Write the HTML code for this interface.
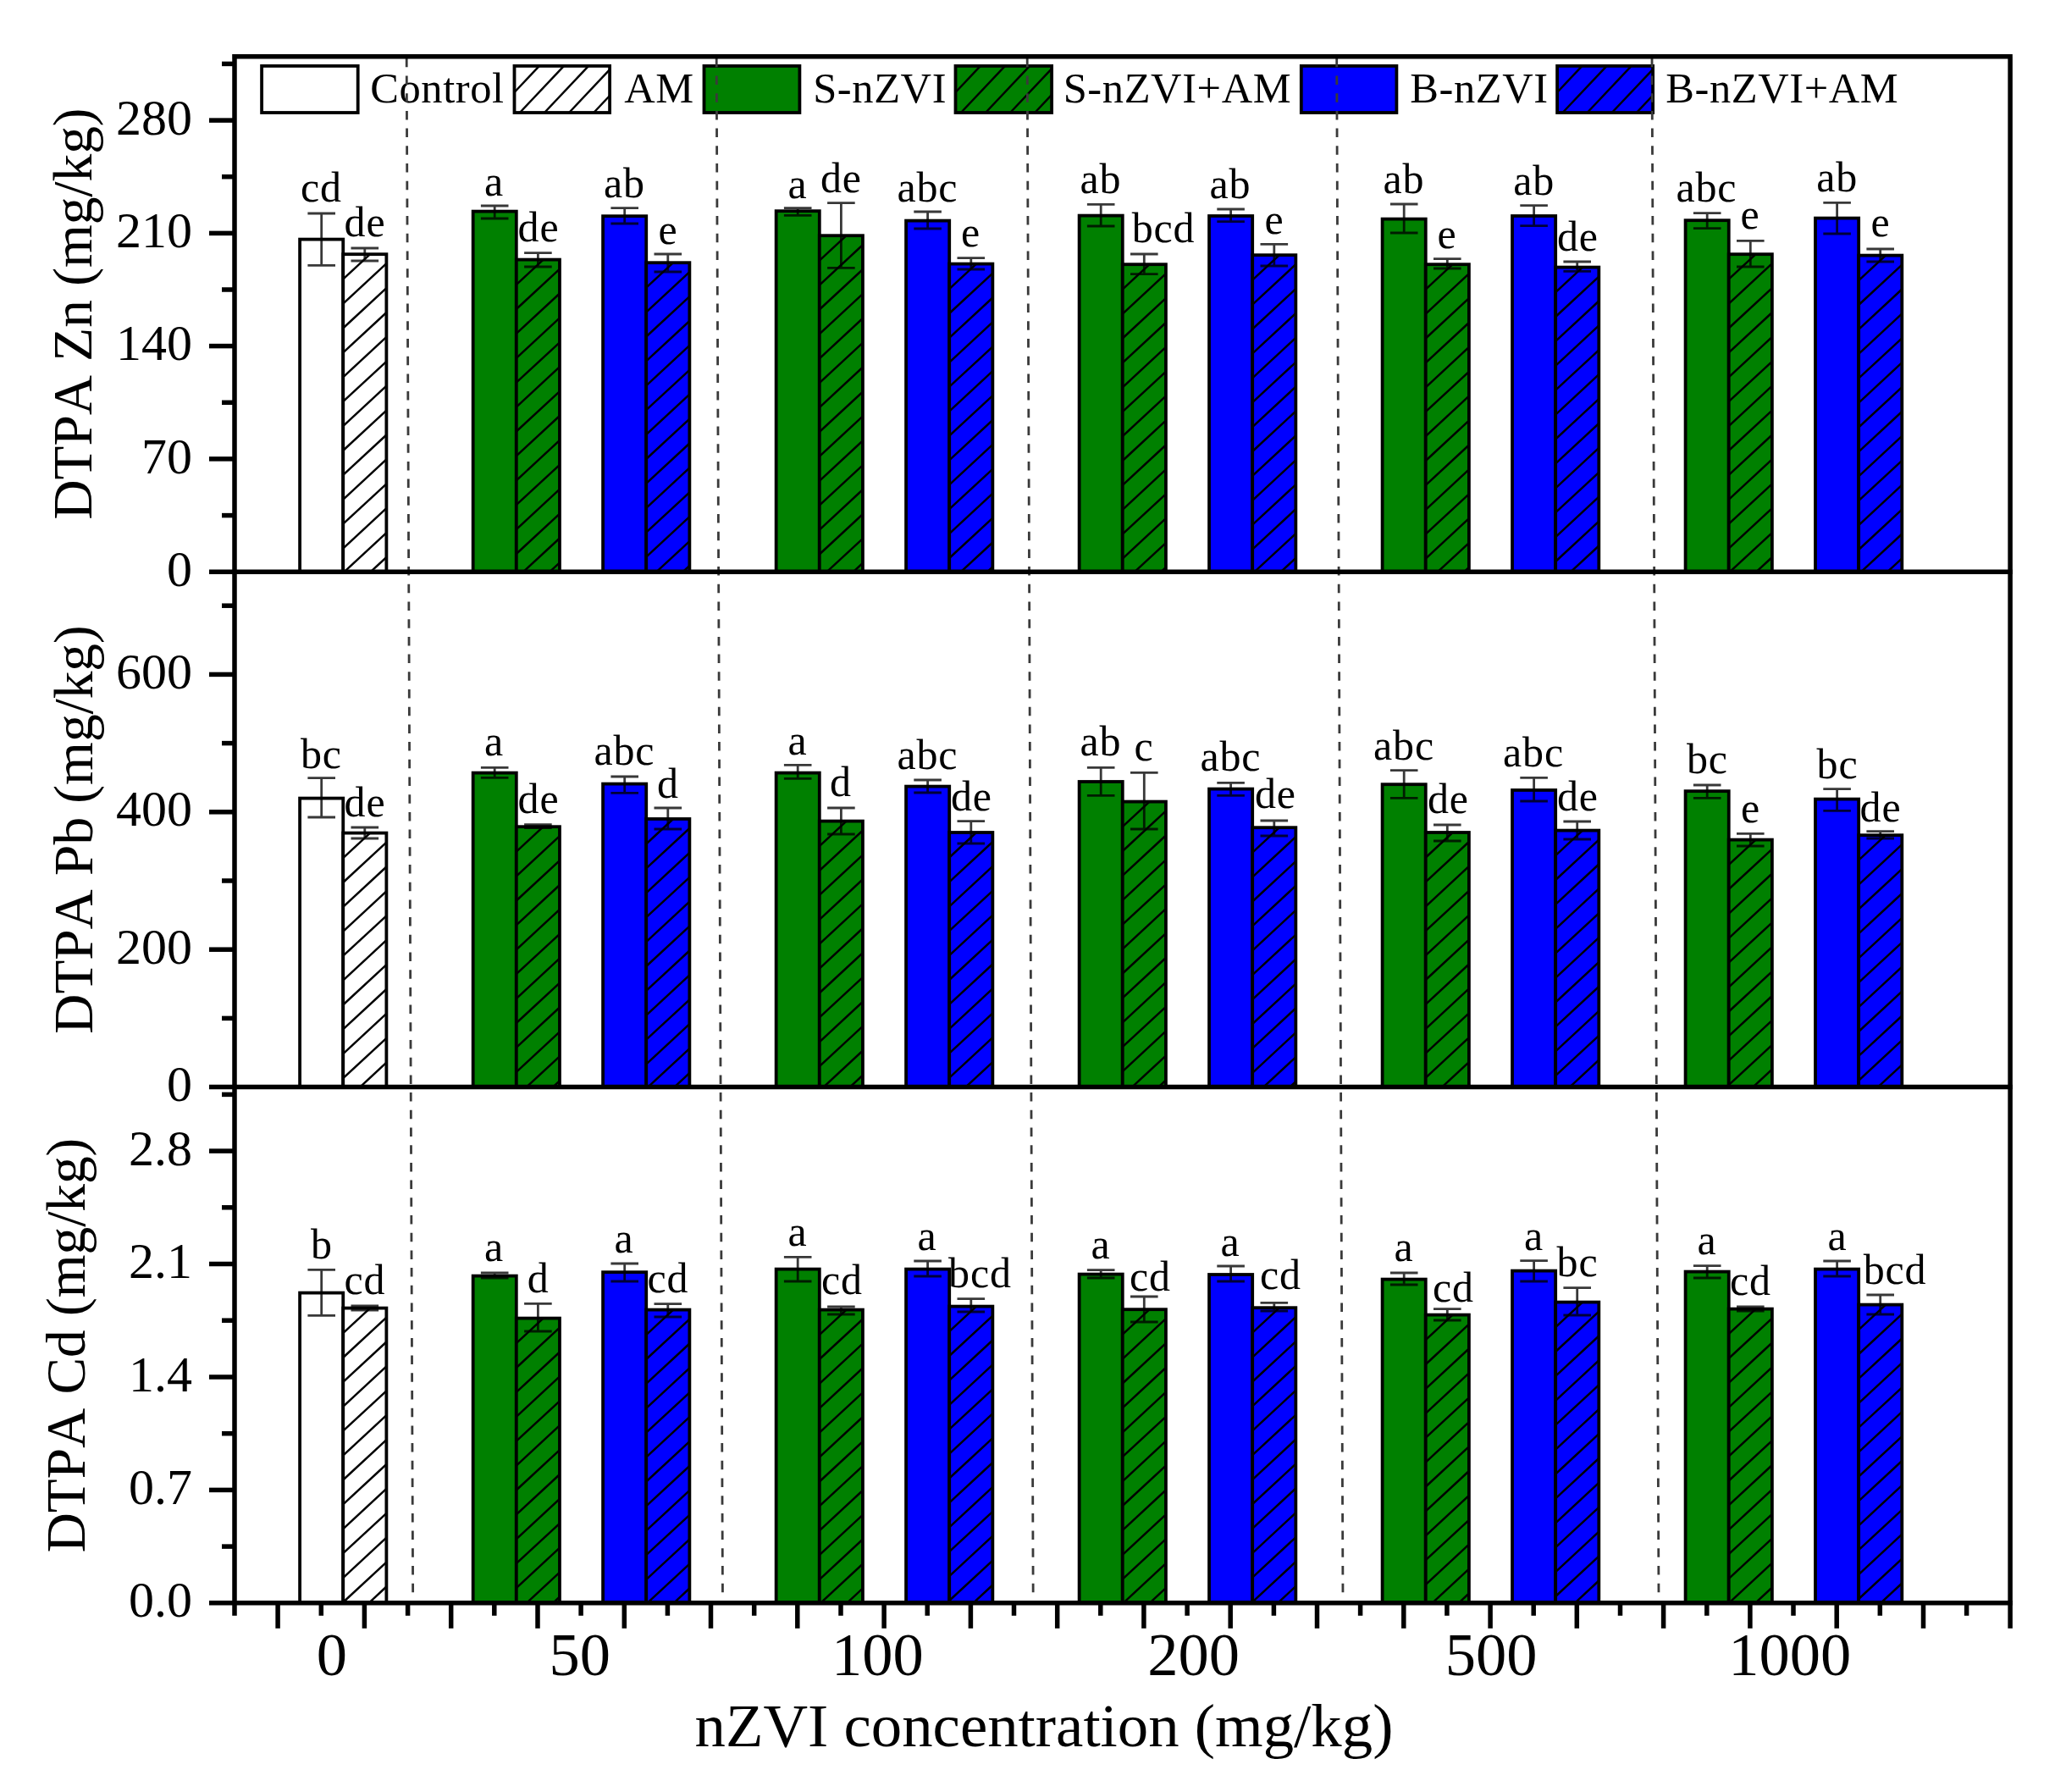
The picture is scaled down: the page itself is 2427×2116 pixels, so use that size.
<!DOCTYPE html>
<html lang="en"><head><meta charset="utf-8"><title>DTPA-extractable Zn, Pb, Cd vs nZVI concentration</title>
<style>
html,body{margin:0;padding:0;background:#fff;}
body{width:2427px;height:2116px;overflow:hidden;}
svg{display:block;}
text{font-family:"Liberation Serif","Times New Roman",serif;fill:#000;font-kerning:none;}
.lab{font-size:50px;text-anchor:middle;letter-spacing:0.8px;}
.leg{font-size:50.5px;letter-spacing:0.6px;}
.yt{font-size:60px;text-anchor:end;}
.xt{font-size:72.5px;text-anchor:middle;}
.ttl{font-size:72.8px;text-anchor:middle;}
.ytl{font-size:65.3px;text-anchor:middle;}
</style></head><body>
<svg width="2427" height="2116" viewBox="0 0 2427 2116">
<rect x="0" y="0" width="2427" height="2116" fill="#ffffff"/>
<g id="bars" stroke="#000" stroke-width="3.8">
<rect x="354.11" y="282.60" width="51.14" height="392.60" fill="#ffffff"/>
<rect x="405.25" y="300.20" width="51.14" height="375.00" fill="#ffffff"/>
<path d="M405.2,300.8L405.9,300.2M405.2,329.7L437.1,300.2M405.2,358.6L456.4,311.2M405.2,387.5L456.4,340.1M405.2,416.4L456.4,369.0M405.2,445.3L456.4,397.9M405.2,474.2L456.4,426.8M405.2,503.1L456.4,455.7M405.2,532.0L456.4,484.6M405.2,560.9L456.4,513.5M405.2,589.8L456.4,542.4M405.2,618.7L456.4,571.3M405.2,647.6L456.4,600.2M406.7,675.2L456.4,629.1M437.8,675.2L456.4,658.0" fill="none" stroke="#000" stroke-width="2.5"/>
<rect x="558.67" y="249.60" width="51.14" height="425.60" fill="#008000"/>
<rect x="609.81" y="306.60" width="51.14" height="368.60" fill="#008000"/>
<path d="M609.8,307.2L610.5,306.6M609.8,336.1L641.6,306.6M609.8,365.0L661.0,317.6M609.8,393.9L661.0,346.5M609.8,422.8L661.0,375.4M609.8,451.7L661.0,404.3M609.8,480.6L661.0,433.2M609.8,509.5L661.0,462.1M609.8,538.4L661.0,491.0M609.8,567.3L661.0,519.9M609.8,596.2L661.0,548.8M609.8,625.1L661.0,577.7M609.8,654.0L661.0,606.6M618.1,675.2L661.0,635.5M649.3,675.2L661.0,664.4" fill="none" stroke="#000" stroke-width="2.5"/>
<rect x="712.09" y="255.20" width="51.14" height="420.00" fill="#0000ff"/>
<rect x="763.23" y="310.20" width="51.14" height="365.00" fill="#0000ff"/>
<path d="M763.2,310.8L763.9,310.2M763.2,339.7L795.1,310.2M763.2,368.6L814.4,321.2M763.2,397.5L814.4,350.1M763.2,426.4L814.4,379.0M763.2,455.3L814.4,407.9M763.2,484.2L814.4,436.8M763.2,513.1L814.4,465.7M763.2,542.0L814.4,494.6M763.2,570.9L814.4,523.5M763.2,599.8L814.4,552.4M763.2,628.7L814.4,581.3M763.2,657.6L814.4,610.2M775.4,675.2L814.4,639.1M806.6,675.2L814.4,668.0" fill="none" stroke="#000" stroke-width="2.5"/>
<rect x="916.65" y="249.20" width="51.14" height="426.00" fill="#008000"/>
<rect x="967.79" y="278.20" width="51.14" height="397.00" fill="#008000"/>
<path d="M967.8,278.8L968.4,278.2M967.8,307.7L999.6,278.2M967.8,336.6L1018.9,289.2M967.8,365.5L1018.9,318.1M967.8,394.4L1018.9,347.0M967.8,423.3L1018.9,375.9M967.8,452.2L1018.9,404.8M967.8,481.1L1018.9,433.7M967.8,510.0L1018.9,462.6M967.8,538.9L1018.9,491.5M967.8,567.8L1018.9,520.4M967.8,596.7L1018.9,549.3M967.8,625.6L1018.9,578.2M967.8,654.5L1018.9,607.1M976.6,675.2L1018.9,636.0M1007.8,675.2L1018.9,664.9" fill="none" stroke="#000" stroke-width="2.5"/>
<rect x="1070.07" y="260.60" width="51.14" height="414.60" fill="#0000ff"/>
<rect x="1121.21" y="311.60" width="51.14" height="363.60" fill="#0000ff"/>
<path d="M1121.2,312.2L1121.9,311.6M1121.2,341.1L1153.0,311.6M1121.2,370.0L1172.4,322.6M1121.2,398.9L1172.4,351.5M1121.2,427.8L1172.4,380.4M1121.2,456.7L1172.4,409.3M1121.2,485.6L1172.4,438.2M1121.2,514.5L1172.4,467.1M1121.2,543.4L1172.4,496.0M1121.2,572.3L1172.4,524.9M1121.2,601.2L1172.4,553.8M1121.2,630.1L1172.4,582.7M1121.2,659.0L1172.4,611.6M1134.9,675.2L1172.4,640.5M1166.1,675.2L1172.4,669.4" fill="none" stroke="#000" stroke-width="2.5"/>
<rect x="1274.63" y="254.60" width="51.14" height="420.60" fill="#008000"/>
<rect x="1325.77" y="312.20" width="51.14" height="363.00" fill="#008000"/>
<path d="M1325.8,312.8L1326.4,312.2M1325.8,341.7L1357.6,312.2M1325.8,370.6L1376.9,323.2M1325.8,399.5L1376.9,352.1M1325.8,428.4L1376.9,381.0M1325.8,457.3L1376.9,409.9M1325.8,486.2L1376.9,438.8M1325.8,515.1L1376.9,467.7M1325.8,544.0L1376.9,496.6M1325.8,572.9L1376.9,525.5M1325.8,601.8L1376.9,554.4M1325.8,630.7L1376.9,583.3M1325.8,659.6L1376.9,612.2M1340.1,675.2L1376.9,641.1M1371.3,675.2L1376.9,670.0" fill="none" stroke="#000" stroke-width="2.5"/>
<rect x="1428.05" y="255.00" width="51.14" height="420.20" fill="#0000ff"/>
<rect x="1479.19" y="301.20" width="51.14" height="374.00" fill="#0000ff"/>
<path d="M1479.2,301.8L1479.8,301.2M1479.2,330.7L1511.0,301.2M1479.2,359.6L1530.3,312.2M1479.2,388.5L1530.3,341.1M1479.2,417.4L1530.3,370.0M1479.2,446.3L1530.3,398.9M1479.2,475.2L1530.3,427.8M1479.2,504.1L1530.3,456.7M1479.2,533.0L1530.3,485.6M1479.2,561.9L1530.3,514.5M1479.2,590.8L1530.3,543.4M1479.2,619.7L1530.3,572.3M1479.2,648.6L1530.3,601.2M1481.7,675.2L1530.3,630.1M1512.8,675.2L1530.3,659.0" fill="none" stroke="#000" stroke-width="2.5"/>
<rect x="1632.61" y="258.60" width="51.14" height="416.60" fill="#008000"/>
<rect x="1683.75" y="312.20" width="51.14" height="363.00" fill="#008000"/>
<path d="M1683.8,312.8L1684.4,312.2M1683.8,341.7L1715.6,312.2M1683.8,370.6L1734.9,323.2M1683.8,399.5L1734.9,352.1M1683.8,428.4L1734.9,381.0M1683.8,457.3L1734.9,409.9M1683.8,486.2L1734.9,438.8M1683.8,515.1L1734.9,467.7M1683.8,544.0L1734.9,496.6M1683.8,572.9L1734.9,525.5M1683.8,601.8L1734.9,554.4M1683.8,630.7L1734.9,583.3M1683.8,659.6L1734.9,612.2M1698.1,675.2L1734.9,641.1M1729.3,675.2L1734.9,670.0" fill="none" stroke="#000" stroke-width="2.5"/>
<rect x="1786.03" y="255.00" width="51.14" height="420.20" fill="#0000ff"/>
<rect x="1837.17" y="315.60" width="51.14" height="359.60" fill="#0000ff"/>
<path d="M1837.2,316.2L1837.8,315.6M1837.2,345.1L1869.0,315.6M1837.2,374.0L1888.3,326.6M1837.2,402.9L1888.3,355.5M1837.2,431.8L1888.3,384.4M1837.2,460.7L1888.3,413.3M1837.2,489.6L1888.3,442.2M1837.2,518.5L1888.3,471.1M1837.2,547.4L1888.3,500.0M1837.2,576.3L1888.3,528.9M1837.2,605.2L1888.3,557.8M1837.2,634.1L1888.3,586.7M1837.2,663.0L1888.3,615.6M1855.2,675.2L1888.3,644.5M1886.4,675.2L1888.3,673.4" fill="none" stroke="#000" stroke-width="2.5"/>
<rect x="1990.59" y="260.20" width="51.14" height="415.00" fill="#008000"/>
<rect x="2041.73" y="300.20" width="51.14" height="375.00" fill="#008000"/>
<path d="M2041.7,300.8L2042.4,300.2M2041.7,329.7L2073.6,300.2M2041.7,358.6L2092.9,311.2M2041.7,387.5L2092.9,340.1M2041.7,416.4L2092.9,369.0M2041.7,445.3L2092.9,397.9M2041.7,474.2L2092.9,426.8M2041.7,503.1L2092.9,455.7M2041.7,532.0L2092.9,484.6M2041.7,560.9L2092.9,513.5M2041.7,589.8L2092.9,542.4M2041.7,618.7L2092.9,571.3M2041.7,647.6L2092.9,600.2M2043.1,675.2L2092.9,629.1M2074.3,675.2L2092.9,658.0" fill="none" stroke="#000" stroke-width="2.5"/>
<rect x="2144.01" y="257.60" width="51.14" height="417.60" fill="#0000ff"/>
<rect x="2195.15" y="301.60" width="51.14" height="373.60" fill="#0000ff"/>
<path d="M2195.2,302.2L2195.8,301.6M2195.2,331.1L2227.0,301.6M2195.2,360.0L2246.3,312.6M2195.2,388.9L2246.3,341.5M2195.2,417.8L2246.3,370.4M2195.2,446.7L2246.3,399.3M2195.2,475.6L2246.3,428.2M2195.2,504.5L2246.3,457.1M2195.2,533.4L2246.3,486.0M2195.2,562.3L2246.3,514.9M2195.2,591.2L2246.3,543.8M2195.2,620.1L2246.3,572.7M2195.2,649.0L2246.3,601.6M2198.1,675.2L2246.3,630.5M2229.2,675.2L2246.3,659.4" fill="none" stroke="#000" stroke-width="2.5"/>
<rect x="354.11" y="942.60" width="51.14" height="341.00" fill="#ffffff"/>
<rect x="405.25" y="983.60" width="51.14" height="300.00" fill="#ffffff"/>
<path d="M405.2,984.2L405.9,983.6M405.2,1013.1L437.1,983.6M405.2,1042.0L456.4,994.6M405.2,1070.9L456.4,1023.5M405.2,1099.8L456.4,1052.4M405.2,1128.7L456.4,1081.3M405.2,1157.6L456.4,1110.2M405.2,1186.5L456.4,1139.1M405.2,1215.4L456.4,1168.0M405.2,1244.3L456.4,1196.9M405.2,1273.2L456.4,1225.8M425.2,1283.6L456.4,1254.7" fill="none" stroke="#000" stroke-width="2.5"/>
<rect x="558.67" y="912.60" width="51.14" height="371.00" fill="#008000"/>
<rect x="609.81" y="976.20" width="51.14" height="307.40" fill="#008000"/>
<path d="M609.8,976.8L610.5,976.2M609.8,1005.7L641.6,976.2M609.8,1034.6L661.0,987.2M609.8,1063.5L661.0,1016.1M609.8,1092.4L661.0,1045.0M609.8,1121.3L661.0,1073.9M609.8,1150.2L661.0,1102.8M609.8,1179.1L661.0,1131.7M609.8,1208.0L661.0,1160.6M609.8,1236.9L661.0,1189.5M609.8,1265.8L661.0,1218.4M621.8,1283.6L661.0,1247.3M653.0,1283.6L661.0,1276.2" fill="none" stroke="#000" stroke-width="2.5"/>
<rect x="712.09" y="925.60" width="51.14" height="358.00" fill="#0000ff"/>
<rect x="763.23" y="967.00" width="51.14" height="316.60" fill="#0000ff"/>
<path d="M763.2,967.6L763.9,967.0M763.2,996.5L795.1,967.0M763.2,1025.4L814.4,978.0M763.2,1054.3L814.4,1006.9M763.2,1083.2L814.4,1035.8M763.2,1112.1L814.4,1064.7M763.2,1141.0L814.4,1093.6M763.2,1169.9L814.4,1122.5M763.2,1198.8L814.4,1151.4M763.2,1227.7L814.4,1180.3M763.2,1256.6L814.4,1209.2M765.3,1283.6L814.4,1238.1M796.5,1283.6L814.4,1267.0" fill="none" stroke="#000" stroke-width="2.5"/>
<rect x="916.65" y="912.60" width="51.14" height="371.00" fill="#008000"/>
<rect x="967.79" y="969.60" width="51.14" height="314.00" fill="#008000"/>
<path d="M967.8,970.2L968.4,969.6M967.8,999.1L999.6,969.6M967.8,1028.0L1018.9,980.6M967.8,1056.9L1018.9,1009.5M967.8,1085.8L1018.9,1038.4M967.8,1114.7L1018.9,1067.3M967.8,1143.6L1018.9,1096.2M967.8,1172.5L1018.9,1125.1M967.8,1201.4L1018.9,1154.0M967.8,1230.3L1018.9,1182.9M967.8,1259.2L1018.9,1211.8M972.6,1283.6L1018.9,1240.7M1003.8,1283.6L1018.9,1269.6" fill="none" stroke="#000" stroke-width="2.5"/>
<rect x="1070.07" y="928.60" width="51.14" height="355.00" fill="#0000ff"/>
<rect x="1121.21" y="983.00" width="51.14" height="300.60" fill="#0000ff"/>
<path d="M1121.2,983.6L1121.9,983.0M1121.2,1012.5L1153.0,983.0M1121.2,1041.4L1172.4,994.0M1121.2,1070.3L1172.4,1022.9M1121.2,1099.2L1172.4,1051.8M1121.2,1128.1L1172.4,1080.7M1121.2,1157.0L1172.4,1109.6M1121.2,1185.9L1172.4,1138.5M1121.2,1214.8L1172.4,1167.4M1121.2,1243.7L1172.4,1196.3M1121.2,1272.6L1172.4,1225.2M1140.5,1283.6L1172.4,1254.1M1171.7,1283.6L1172.4,1283.0" fill="none" stroke="#000" stroke-width="2.5"/>
<rect x="1274.63" y="923.00" width="51.14" height="360.60" fill="#008000"/>
<rect x="1325.77" y="946.60" width="51.14" height="337.00" fill="#008000"/>
<path d="M1325.8,947.2L1326.4,946.6M1325.8,976.1L1357.6,946.6M1325.8,1005.0L1376.9,957.6M1325.8,1033.9L1376.9,986.5M1325.8,1062.8L1376.9,1015.4M1325.8,1091.7L1376.9,1044.3M1325.8,1120.6L1376.9,1073.2M1325.8,1149.5L1376.9,1102.1M1325.8,1178.4L1376.9,1131.0M1325.8,1207.3L1376.9,1159.9M1325.8,1236.2L1376.9,1188.8M1325.8,1265.1L1376.9,1217.7M1337.0,1283.6L1376.9,1246.6M1368.2,1283.6L1376.9,1275.5" fill="none" stroke="#000" stroke-width="2.5"/>
<rect x="1428.05" y="931.60" width="51.14" height="352.00" fill="#0000ff"/>
<rect x="1479.19" y="977.20" width="51.14" height="306.40" fill="#0000ff"/>
<path d="M1479.2,977.8L1479.8,977.2M1479.2,1006.7L1511.0,977.2M1479.2,1035.6L1530.3,988.2M1479.2,1064.5L1530.3,1017.1M1479.2,1093.4L1530.3,1046.0M1479.2,1122.3L1530.3,1074.9M1479.2,1151.2L1530.3,1103.8M1479.2,1180.1L1530.3,1132.7M1479.2,1209.0L1530.3,1161.6M1479.2,1237.9L1530.3,1190.5M1479.2,1266.8L1530.3,1219.4M1492.2,1283.6L1530.3,1248.3M1523.4,1283.6L1530.3,1277.2" fill="none" stroke="#000" stroke-width="2.5"/>
<rect x="1632.61" y="926.20" width="51.14" height="357.40" fill="#008000"/>
<rect x="1683.75" y="983.00" width="51.14" height="300.60" fill="#008000"/>
<path d="M1683.8,983.6L1684.4,983.0M1683.8,1012.5L1715.6,983.0M1683.8,1041.4L1734.9,994.0M1683.8,1070.3L1734.9,1022.9M1683.8,1099.2L1734.9,1051.8M1683.8,1128.1L1734.9,1080.7M1683.8,1157.0L1734.9,1109.6M1683.8,1185.9L1734.9,1138.5M1683.8,1214.8L1734.9,1167.4M1683.8,1243.7L1734.9,1196.3M1683.8,1272.6L1734.9,1225.2M1703.1,1283.6L1734.9,1254.1M1734.2,1283.6L1734.9,1283.0" fill="none" stroke="#000" stroke-width="2.5"/>
<rect x="1786.03" y="933.00" width="51.14" height="350.60" fill="#0000ff"/>
<rect x="1837.17" y="980.60" width="51.14" height="303.00" fill="#0000ff"/>
<path d="M1837.2,981.2L1837.8,980.6M1837.2,1010.1L1869.0,980.6M1837.2,1039.0L1888.3,991.6M1837.2,1067.9L1888.3,1020.5M1837.2,1096.8L1888.3,1049.4M1837.2,1125.7L1888.3,1078.3M1837.2,1154.6L1888.3,1107.2M1837.2,1183.5L1888.3,1136.1M1837.2,1212.4L1888.3,1165.0M1837.2,1241.3L1888.3,1193.9M1837.2,1270.2L1888.3,1222.8M1853.9,1283.6L1888.3,1251.7M1885.1,1283.6L1888.3,1280.6" fill="none" stroke="#000" stroke-width="2.5"/>
<rect x="1990.59" y="934.20" width="51.14" height="349.40" fill="#008000"/>
<rect x="2041.73" y="991.60" width="51.14" height="292.00" fill="#008000"/>
<path d="M2041.7,992.2L2042.4,991.6M2041.7,1021.1L2073.6,991.6M2041.7,1050.0L2092.9,1002.6M2041.7,1078.9L2092.9,1031.5M2041.7,1107.8L2092.9,1060.4M2041.7,1136.7L2092.9,1089.3M2041.7,1165.6L2092.9,1118.2M2041.7,1194.5L2092.9,1147.1M2041.7,1223.4L2092.9,1176.0M2041.7,1252.3L2092.9,1204.9M2041.7,1281.2L2092.9,1233.8M2070.3,1283.6L2092.9,1262.7" fill="none" stroke="#000" stroke-width="2.5"/>
<rect x="2144.01" y="943.60" width="51.14" height="340.00" fill="#0000ff"/>
<rect x="2195.15" y="986.20" width="51.14" height="297.40" fill="#0000ff"/>
<path d="M2195.2,986.8L2195.8,986.2M2195.2,1015.7L2227.0,986.2M2195.2,1044.6L2246.3,997.2M2195.2,1073.5L2246.3,1026.1M2195.2,1102.4L2246.3,1055.0M2195.2,1131.3L2246.3,1083.9M2195.2,1160.2L2246.3,1112.8M2195.2,1189.1L2246.3,1141.7M2195.2,1218.0L2246.3,1170.6M2195.2,1246.9L2246.3,1199.5M2195.2,1275.8L2246.3,1228.4M2217.9,1283.6L2246.3,1257.3" fill="none" stroke="#000" stroke-width="2.5"/>
<rect x="354.11" y="1526.60" width="51.14" height="366.20" fill="#ffffff"/>
<rect x="405.25" y="1544.60" width="51.14" height="348.20" fill="#ffffff"/>
<path d="M405.2,1545.2L405.9,1544.6M405.2,1574.1L437.1,1544.6M405.2,1603.0L456.4,1555.6M405.2,1631.9L456.4,1584.5M405.2,1660.8L456.4,1613.4M405.2,1689.7L456.4,1642.3M405.2,1718.6L456.4,1671.2M405.2,1747.5L456.4,1700.1M405.2,1776.4L456.4,1729.0M405.2,1805.3L456.4,1757.9M405.2,1834.2L456.4,1786.8M405.2,1863.1L456.4,1815.7M405.2,1892.0L456.4,1844.6M435.6,1892.8L456.4,1873.5" fill="none" stroke="#000" stroke-width="2.5"/>
<rect x="558.67" y="1506.60" width="51.14" height="386.20" fill="#008000"/>
<rect x="609.81" y="1556.60" width="51.14" height="336.20" fill="#008000"/>
<path d="M609.8,1557.2L610.5,1556.6M609.8,1586.1L641.6,1556.6M609.8,1615.0L661.0,1567.6M609.8,1643.9L661.0,1596.5M609.8,1672.8L661.0,1625.4M609.8,1701.7L661.0,1654.3M609.8,1730.6L661.0,1683.2M609.8,1759.5L661.0,1712.1M609.8,1788.4L661.0,1741.0M609.8,1817.3L661.0,1769.9M609.8,1846.2L661.0,1798.8M609.8,1875.1L661.0,1827.7M621.9,1892.8L661.0,1856.6M653.1,1892.8L661.0,1885.5" fill="none" stroke="#000" stroke-width="2.5"/>
<rect x="712.09" y="1502.20" width="51.14" height="390.60" fill="#0000ff"/>
<rect x="763.23" y="1546.60" width="51.14" height="346.20" fill="#0000ff"/>
<path d="M763.2,1547.2L763.9,1546.6M763.2,1576.1L795.1,1546.6M763.2,1605.0L814.4,1557.6M763.2,1633.9L814.4,1586.5M763.2,1662.8L814.4,1615.4M763.2,1691.7L814.4,1644.3M763.2,1720.6L814.4,1673.2M763.2,1749.5L814.4,1702.1M763.2,1778.4L814.4,1731.0M763.2,1807.3L814.4,1759.9M763.2,1836.2L814.4,1788.8M763.2,1865.1L814.4,1817.7M764.5,1892.8L814.4,1846.6M795.7,1892.8L814.4,1875.5" fill="none" stroke="#000" stroke-width="2.5"/>
<rect x="916.65" y="1498.60" width="51.14" height="394.20" fill="#008000"/>
<rect x="967.79" y="1546.60" width="51.14" height="346.20" fill="#008000"/>
<path d="M967.8,1547.2L968.4,1546.6M967.8,1576.1L999.6,1546.6M967.8,1605.0L1018.9,1557.6M967.8,1633.9L1018.9,1586.5M967.8,1662.8L1018.9,1615.4M967.8,1691.7L1018.9,1644.3M967.8,1720.6L1018.9,1673.2M967.8,1749.5L1018.9,1702.1M967.8,1778.4L1018.9,1731.0M967.8,1807.3L1018.9,1759.9M967.8,1836.2L1018.9,1788.8M967.8,1865.1L1018.9,1817.7M969.1,1892.8L1018.9,1846.6M1000.3,1892.8L1018.9,1875.5" fill="none" stroke="#000" stroke-width="2.5"/>
<rect x="1070.07" y="1498.60" width="51.14" height="394.20" fill="#0000ff"/>
<rect x="1121.21" y="1542.60" width="51.14" height="350.20" fill="#0000ff"/>
<path d="M1121.2,1543.2L1121.9,1542.6M1121.2,1572.1L1153.0,1542.6M1121.2,1601.0L1172.4,1553.6M1121.2,1629.9L1172.4,1582.5M1121.2,1658.8L1172.4,1611.4M1121.2,1687.7L1172.4,1640.3M1121.2,1716.6L1172.4,1669.2M1121.2,1745.5L1172.4,1698.1M1121.2,1774.4L1172.4,1727.0M1121.2,1803.3L1172.4,1755.9M1121.2,1832.2L1172.4,1784.8M1121.2,1861.1L1172.4,1813.7M1121.2,1890.0L1172.4,1842.6M1149.4,1892.8L1172.4,1871.5" fill="none" stroke="#000" stroke-width="2.5"/>
<rect x="1274.63" y="1504.60" width="51.14" height="388.20" fill="#008000"/>
<rect x="1325.77" y="1546.20" width="51.14" height="346.60" fill="#008000"/>
<path d="M1325.8,1546.8L1326.4,1546.2M1325.8,1575.7L1357.6,1546.2M1325.8,1604.6L1376.9,1557.2M1325.8,1633.5L1376.9,1586.1M1325.8,1662.4L1376.9,1615.0M1325.8,1691.3L1376.9,1643.9M1325.8,1720.2L1376.9,1672.8M1325.8,1749.1L1376.9,1701.7M1325.8,1778.0L1376.9,1730.6M1325.8,1806.9L1376.9,1759.5M1325.8,1835.8L1376.9,1788.4M1325.8,1864.7L1376.9,1817.3M1326.6,1892.8L1376.9,1846.2M1357.8,1892.8L1376.9,1875.1" fill="none" stroke="#000" stroke-width="2.5"/>
<rect x="1428.05" y="1505.00" width="51.14" height="387.80" fill="#0000ff"/>
<rect x="1479.19" y="1544.20" width="51.14" height="348.60" fill="#0000ff"/>
<path d="M1479.2,1544.8L1479.8,1544.2M1479.2,1573.7L1511.0,1544.2M1479.2,1602.6L1530.3,1555.2M1479.2,1631.5L1530.3,1584.1M1479.2,1660.4L1530.3,1613.0M1479.2,1689.3L1530.3,1641.9M1479.2,1718.2L1530.3,1670.8M1479.2,1747.1L1530.3,1699.7M1479.2,1776.0L1530.3,1728.6M1479.2,1804.9L1530.3,1757.5M1479.2,1833.8L1530.3,1786.4M1479.2,1862.7L1530.3,1815.3M1479.2,1891.6L1530.3,1844.2M1509.1,1892.8L1530.3,1873.1" fill="none" stroke="#000" stroke-width="2.5"/>
<rect x="1632.61" y="1510.60" width="51.14" height="382.20" fill="#008000"/>
<rect x="1683.75" y="1552.60" width="51.14" height="340.20" fill="#008000"/>
<path d="M1683.8,1553.2L1684.4,1552.6M1683.8,1582.1L1715.6,1552.6M1683.8,1611.0L1734.9,1563.6M1683.8,1639.9L1734.9,1592.5M1683.8,1668.8L1734.9,1621.4M1683.8,1697.7L1734.9,1650.3M1683.8,1726.6L1734.9,1679.2M1683.8,1755.5L1734.9,1708.1M1683.8,1784.4L1734.9,1737.0M1683.8,1813.3L1734.9,1765.9M1683.8,1842.2L1734.9,1794.8M1683.8,1871.1L1734.9,1823.7M1691.5,1892.8L1734.9,1852.6M1722.7,1892.8L1734.9,1881.5" fill="none" stroke="#000" stroke-width="2.5"/>
<rect x="1786.03" y="1500.60" width="51.14" height="392.20" fill="#0000ff"/>
<rect x="1837.17" y="1537.60" width="51.14" height="355.20" fill="#0000ff"/>
<path d="M1837.2,1538.2L1837.8,1537.6M1837.2,1567.1L1869.0,1537.6M1837.2,1596.0L1888.3,1548.6M1837.2,1624.9L1888.3,1577.5M1837.2,1653.8L1888.3,1606.4M1837.2,1682.7L1888.3,1635.3M1837.2,1711.6L1888.3,1664.2M1837.2,1740.5L1888.3,1693.1M1837.2,1769.4L1888.3,1722.0M1837.2,1798.3L1888.3,1750.9M1837.2,1827.2L1888.3,1779.8M1837.2,1856.1L1888.3,1808.7M1837.2,1885.0L1888.3,1837.6M1859.9,1892.8L1888.3,1866.5" fill="none" stroke="#000" stroke-width="2.5"/>
<rect x="1990.59" y="1501.60" width="51.14" height="391.20" fill="#008000"/>
<rect x="2041.73" y="1545.60" width="51.14" height="347.20" fill="#008000"/>
<path d="M2041.7,1546.2L2042.4,1545.6M2041.7,1575.1L2073.6,1545.6M2041.7,1604.0L2092.9,1556.6M2041.7,1632.9L2092.9,1585.5M2041.7,1661.8L2092.9,1614.4M2041.7,1690.7L2092.9,1643.3M2041.7,1719.6L2092.9,1672.2M2041.7,1748.5L2092.9,1701.1M2041.7,1777.4L2092.9,1730.0M2041.7,1806.3L2092.9,1758.9M2041.7,1835.2L2092.9,1787.8M2041.7,1864.1L2092.9,1816.7M2041.9,1892.8L2092.9,1845.6M2073.1,1892.8L2092.9,1874.5" fill="none" stroke="#000" stroke-width="2.5"/>
<rect x="2144.01" y="1498.60" width="51.14" height="394.20" fill="#0000ff"/>
<rect x="2195.15" y="1540.60" width="51.14" height="352.20" fill="#0000ff"/>
<path d="M2195.2,1541.2L2195.8,1540.6M2195.2,1570.1L2227.0,1540.6M2195.2,1599.0L2246.3,1551.6M2195.2,1627.9L2246.3,1580.5M2195.2,1656.8L2246.3,1609.4M2195.2,1685.7L2246.3,1638.3M2195.2,1714.6L2246.3,1667.2M2195.2,1743.5L2246.3,1696.1M2195.2,1772.4L2246.3,1725.0M2195.2,1801.3L2246.3,1753.9M2195.2,1830.2L2246.3,1782.8M2195.2,1859.1L2246.3,1811.7M2195.2,1888.0L2246.3,1840.6M2221.1,1892.8L2246.3,1869.5" fill="none" stroke="#000" stroke-width="2.5"/>
</g>
<g id="err" stroke="#000" stroke-opacity="0.78" stroke-width="2.8" fill="none">
<path d="M379.7,252.0 V313.4 M363.4,252.0 H396.0 M363.4,313.4 H396.0"/>
<path d="M430.8,293.0 V308.0 M414.5,293.0 H447.1 M414.5,308.0 H447.1"/>
<path d="M584.2,243.0 V258.0 M567.9,243.0 H600.5 M567.9,258.0 H600.5"/>
<path d="M635.4,298.6 V315.0 M619.1,298.6 H651.7 M619.1,315.0 H651.7"/>
<path d="M737.7,245.6 V264.0 M721.4,245.6 H754.0 M721.4,264.0 H754.0"/>
<path d="M788.8,300.0 V321.0 M772.5,300.0 H805.1 M772.5,321.0 H805.1"/>
<path d="M942.2,245.6 V254.4 M925.9,245.6 H958.5 M925.9,254.4 H958.5"/>
<path d="M993.4,239.6 V316.4 M977.1,239.6 H1009.7 M977.1,316.4 H1009.7"/>
<path d="M1095.6,250.0 V270.0 M1079.3,250.0 H1111.9 M1079.3,270.0 H1111.9"/>
<path d="M1146.8,304.6 V318.0 M1130.5,304.6 H1163.1 M1130.5,318.0 H1163.1"/>
<path d="M1300.2,241.4 V267.0 M1283.9,241.4 H1316.5 M1283.9,267.0 H1316.5"/>
<path d="M1351.3,300.0 V323.6 M1335.0,300.0 H1367.6 M1335.0,323.6 H1367.6"/>
<path d="M1453.6,247.0 V261.6 M1437.3,247.0 H1469.9 M1437.3,261.6 H1469.9"/>
<path d="M1504.8,288.4 V314.0 M1488.5,288.4 H1521.1 M1488.5,314.0 H1521.1"/>
<path d="M1658.2,241.0 V275.0 M1641.9,241.0 H1674.5 M1641.9,275.0 H1674.5"/>
<path d="M1709.3,305.6 V317.0 M1693.0,305.6 H1725.6 M1693.0,317.0 H1725.6"/>
<path d="M1811.6,242.6 V266.6 M1795.3,242.6 H1827.9 M1795.3,266.6 H1827.9"/>
<path d="M1862.7,309.0 V320.4 M1846.4,309.0 H1879.0 M1846.4,320.4 H1879.0"/>
<path d="M2016.2,251.6 V269.6 M1999.9,251.6 H2032.5 M1999.9,269.6 H2032.5"/>
<path d="M2067.3,284.4 V315.0 M2051.0,284.4 H2083.6 M2051.0,315.0 H2083.6"/>
<path d="M2169.6,239.4 V276.0 M2153.3,239.4 H2185.9 M2153.3,276.0 H2185.9"/>
<path d="M2220.7,294.0 V309.0 M2204.4,294.0 H2237.0 M2204.4,309.0 H2237.0"/>
<path d="M379.7,918.6 V965.0 M363.4,918.6 H396.0 M363.4,965.0 H396.0"/>
<path d="M430.8,977.0 V990.0 M414.5,977.0 H447.1 M414.5,990.0 H447.1"/>
<path d="M584.2,906.4 V918.4 M567.9,906.4 H600.5 M567.9,918.4 H600.5"/>
<path d="M635.4,973.6 V977.6 M619.1,973.6 H651.7 M619.1,977.6 H651.7"/>
<path d="M737.7,917.0 V936.4 M721.4,917.0 H754.0 M721.4,936.4 H754.0"/>
<path d="M788.8,954.0 V979.0 M772.5,954.0 H805.1 M772.5,979.0 H805.1"/>
<path d="M942.2,903.4 V919.4 M925.9,903.4 H958.5 M925.9,919.4 H958.5"/>
<path d="M993.4,954.0 V985.0 M977.1,954.0 H1009.7 M977.1,985.0 H1009.7"/>
<path d="M1095.6,921.0 V936.0 M1079.3,921.0 H1111.9 M1079.3,936.0 H1111.9"/>
<path d="M1146.8,969.6 V996.0 M1130.5,969.6 H1163.1 M1130.5,996.0 H1163.1"/>
<path d="M1300.2,906.4 V939.4 M1283.9,906.4 H1316.5 M1283.9,939.4 H1316.5"/>
<path d="M1351.3,912.4 V979.0 M1335.0,912.4 H1367.6 M1335.0,979.0 H1367.6"/>
<path d="M1453.6,924.4 V939.4 M1437.3,924.4 H1469.9 M1437.3,939.4 H1469.9"/>
<path d="M1504.8,969.0 V987.0 M1488.5,969.0 H1521.1 M1488.5,987.0 H1521.1"/>
<path d="M1658.2,909.6 V942.4 M1641.9,909.6 H1674.5 M1641.9,942.4 H1674.5"/>
<path d="M1709.3,974.0 V993.0 M1693.0,974.0 H1725.6 M1693.0,993.0 H1725.6"/>
<path d="M1811.6,918.4 V946.0 M1795.3,918.4 H1827.9 M1795.3,946.0 H1827.9"/>
<path d="M1862.7,970.0 V991.0 M1846.4,970.0 H1879.0 M1846.4,991.0 H1879.0"/>
<path d="M2016.2,927.0 V942.4 M1999.9,927.0 H2032.5 M1999.9,942.4 H2032.5"/>
<path d="M2067.3,984.4 V999.0 M2051.0,984.4 H2083.6 M2051.0,999.0 H2083.6"/>
<path d="M2169.6,931.6 V957.4 M2153.3,931.6 H2185.9 M2153.3,957.4 H2185.9"/>
<path d="M2220.7,981.6 V990.0 M2204.4,981.6 H2237.0 M2204.4,990.0 H2237.0"/>
<path d="M379.7,1499.4 V1553.4 M363.4,1499.4 H396.0 M363.4,1553.4 H396.0"/>
<path d="M430.8,1542.0 V1547.0 M414.5,1542.0 H447.1 M414.5,1547.0 H447.1"/>
<path d="M584.2,1503.0 V1509.0 M567.9,1503.0 H600.5 M567.9,1509.0 H600.5"/>
<path d="M635.4,1539.4 V1572.0 M619.1,1539.4 H651.7 M619.1,1572.0 H651.7"/>
<path d="M737.7,1492.0 V1513.0 M721.4,1492.0 H754.0 M721.4,1513.0 H754.0"/>
<path d="M788.8,1539.6 V1555.0 M772.5,1539.6 H805.1 M772.5,1555.0 H805.1"/>
<path d="M942.2,1484.4 V1513.0 M925.9,1484.4 H958.5 M925.9,1513.0 H958.5"/>
<path d="M993.4,1543.0 V1552.0 M977.1,1543.0 H1009.7 M977.1,1552.0 H1009.7"/>
<path d="M1095.6,1489.0 V1507.0 M1079.3,1489.0 H1111.9 M1079.3,1507.0 H1111.9"/>
<path d="M1146.8,1533.6 V1549.0 M1130.5,1533.6 H1163.1 M1130.5,1549.0 H1163.1"/>
<path d="M1300.2,1499.6 V1509.0 M1283.9,1499.6 H1316.5 M1283.9,1509.0 H1316.5"/>
<path d="M1351.3,1531.0 V1561.0 M1335.0,1531.0 H1367.6 M1335.0,1561.0 H1367.6"/>
<path d="M1453.6,1495.0 V1513.0 M1437.3,1495.0 H1469.9 M1437.3,1513.0 H1469.9"/>
<path d="M1504.8,1538.4 V1548.0 M1488.5,1538.4 H1521.1 M1488.5,1548.0 H1521.1"/>
<path d="M1658.2,1503.0 V1517.0 M1641.9,1503.0 H1674.5 M1641.9,1517.0 H1674.5"/>
<path d="M1709.3,1545.6 V1559.0 M1693.0,1545.6 H1725.6 M1693.0,1559.0 H1725.6"/>
<path d="M1811.6,1488.6 V1513.0 M1795.3,1488.6 H1827.9 M1795.3,1513.0 H1827.9"/>
<path d="M1862.7,1520.6 V1553.0 M1846.4,1520.6 H1879.0 M1846.4,1553.0 H1879.0"/>
<path d="M2016.2,1494.6 V1509.0 M1999.9,1494.6 H2032.5 M1999.9,1509.0 H2032.5"/>
<path d="M2067.3,1543.0 V1548.0 M2051.0,1543.0 H2083.6 M2051.0,1548.0 H2083.6"/>
<path d="M2169.6,1489.0 V1507.0 M2153.3,1489.0 H2185.9 M2153.3,1507.0 H2185.9"/>
<path d="M2220.7,1529.0 V1552.0 M2204.4,1529.0 H2237.0 M2204.4,1552.0 H2237.0"/>
</g>
<g id="letters">
<text class="lab" x="379.5" y="238.0">cd</text>
<text class="lab" x="431.0" y="279.0">de</text>
<text class="lab" x="583.4" y="231.0">a</text>
<text class="lab" x="636.0" y="285.0">de</text>
<text class="lab" x="737.3" y="233.0">ab</text>
<text class="lab" x="789.0" y="288.0">e</text>
<text class="lab" x="942.0" y="233.6">a</text>
<text class="lab" x="993.4" y="227.0">de</text>
<text class="lab" x="1095.4" y="237.6">abc</text>
<text class="lab" x="1146.6" y="290.6">e</text>
<text class="lab" x="1300.0" y="228.0">ab</text>
<text class="lab" x="1374.0" y="286.4">bcd</text>
<text class="lab" x="1453.0" y="233.6">ab</text>
<text class="lab" x="1505.0" y="275.6">e</text>
<text class="lab" x="1658.0" y="228.0">ab</text>
<text class="lab" x="1709.0" y="292.6">e</text>
<text class="lab" x="1811.6" y="230.0">ab</text>
<text class="lab" x="1863.4" y="296.0">de</text>
<text class="lab" x="2015.4" y="237.6">abc</text>
<text class="lab" x="2067.0" y="270.0">e</text>
<text class="lab" x="2169.6" y="225.6">ab</text>
<text class="lab" x="2221.0" y="279.0">e</text>
<text class="lab" x="379.4" y="907.0">bc</text>
<text class="lab" x="431.0" y="964.0">de</text>
<text class="lab" x="583.4" y="892.0">a</text>
<text class="lab" x="636.0" y="960.0">de</text>
<text class="lab" x="737.4" y="903.0">abc</text>
<text class="lab" x="789.0" y="941.6">d</text>
<text class="lab" x="942.0" y="891.0">a</text>
<text class="lab" x="993.0" y="940.0">d</text>
<text class="lab" x="1095.4" y="907.6">abc</text>
<text class="lab" x="1147.4" y="957.4">de</text>
<text class="lab" x="1300.0" y="892.0">ab</text>
<text class="lab" x="1351.0" y="898.0">c</text>
<text class="lab" x="1453.4" y="910.0">abc</text>
<text class="lab" x="1506.4" y="954.0">de</text>
<text class="lab" x="1658.0" y="897.0">abc</text>
<text class="lab" x="1710.4" y="960.0">de</text>
<text class="lab" x="1811.0" y="905.0">abc</text>
<text class="lab" x="1863.4" y="957.0">de</text>
<text class="lab" x="2016.4" y="913.0">bc</text>
<text class="lab" x="2067.4" y="971.0">e</text>
<text class="lab" x="2170.0" y="919.0">bc</text>
<text class="lab" x="2221.0" y="969.6">de</text>
<text class="lab" x="380.0" y="1486.4">b</text>
<text class="lab" x="431.0" y="1527.6">cd</text>
<text class="lab" x="583.4" y="1489.0">a</text>
<text class="lab" x="635.6" y="1525.6">d</text>
<text class="lab" x="737.0" y="1479.0">a</text>
<text class="lab" x="789.0" y="1526.4">cd</text>
<text class="lab" x="942.0" y="1471.0">a</text>
<text class="lab" x="994.4" y="1528.0">cd</text>
<text class="lab" x="1095.0" y="1476.4">a</text>
<text class="lab" x="1157.4" y="1520.0">bcd</text>
<text class="lab" x="1300.0" y="1486.4">a</text>
<text class="lab" x="1358.4" y="1524.4">cd</text>
<text class="lab" x="1453.0" y="1483.0">a</text>
<text class="lab" x="1512.4" y="1522.4">cd</text>
<text class="lab" x="1658.0" y="1489.0">a</text>
<text class="lab" x="1716.4" y="1536.6">cd</text>
<text class="lab" x="1811.6" y="1476.0">a</text>
<text class="lab" x="1863.0" y="1507.0">bc</text>
<text class="lab" x="2016.0" y="1481.4">a</text>
<text class="lab" x="2067.4" y="1529.4">cd</text>
<text class="lab" x="2170.0" y="1476.4">a</text>
<text class="lab" x="2238.0" y="1516.0">bcd</text>
</g>
<g id="legend">
<rect x="309.1" y="77.9" width="113.6" height="55.1" fill="#ffffff" stroke="#000" stroke-width="3.8"/>
<text class="leg" x="437.2" y="121.3">Control</text>
<rect x="607.5" y="77.9" width="112.6" height="55.1" fill="#ffffff" stroke="#000" stroke-width="3.8"/>
<path d="M607.5,109.0L636.9,77.9M613.9,133.0L666.0,77.9M643.0,133.0L695.1,77.9M672.1,133.0L720.1,82.2M701.2,133.0L720.1,113.0" fill="none" stroke="#000" stroke-width="2.5"/>
<text class="leg" x="737.2" y="121.3">AM</text>
<rect x="831.5" y="77.9" width="112.9" height="55.1" fill="#008000" stroke="#000" stroke-width="3.8"/>
<text class="leg" x="960.2" y="121.3">S-nZVI</text>
<rect x="1128.5" y="77.9" width="113.6" height="55.1" fill="#008000" stroke="#000" stroke-width="3.8"/>
<path d="M1128.5,109.0L1157.9,77.9M1134.9,133.0L1187.0,77.9M1164.0,133.0L1216.1,77.9M1193.1,133.0L1242.1,81.2M1222.2,133.0L1242.1,111.9" fill="none" stroke="#000" stroke-width="2.5"/>
<text class="leg" x="1255.7" y="121.3">S-nZVI+AM</text>
<rect x="1536.8" y="77.9" width="112.6" height="55.1" fill="#0000ff" stroke="#000" stroke-width="3.8"/>
<text class="leg" x="1665.2" y="121.3">B-nZVI</text>
<rect x="1839.1" y="77.9" width="113.0" height="55.1" fill="#0000ff" stroke="#000" stroke-width="3.8"/>
<path d="M1839.1,109.0L1868.5,77.9M1845.5,133.0L1897.6,77.9M1874.6,133.0L1926.7,77.9M1903.7,133.0L1952.1,81.8M1932.8,133.0L1952.1,112.6" fill="none" stroke="#000" stroke-width="2.5"/>
<text class="leg" x="1967.2" y="121.3">B-nZVI+AM</text>
</g>
<g id="sep" stroke="#3a3a3a" stroke-width="2.8" stroke-dasharray="10.5 10.2" fill="none">
<line x1="480.2" y1="68.8" x2="487.7" y2="1890.8"/>
<line x1="846.2" y1="68.8" x2="853.5" y2="1890.8"/>
<line x1="1213.2" y1="68.8" x2="1220.2" y2="1890.8"/>
<line x1="1578.7" y1="68.8" x2="1586.0" y2="1890.8"/>
<line x1="1951.0" y1="68.8" x2="1959.0" y2="1890.8"/>
</g>
<g id="axes" stroke="#000" fill="none" stroke-linecap="butt">
<path stroke-width="5.5" d="M274.2,66.8 H2376.8 M277.0,66.8 V1892.8 M2374.1,66.8 V1892.8"/>
<path stroke-width="5.5" d="M247.0,675.2 H2376.8"/>
<path stroke-width="5.5" d="M247.0,1283.6 H2376.8"/>
<path stroke-width="5.5" d="M247.0,1892.8 H2376.8"/>
<path stroke-width="5.5" d="M247.0,541.9 H277.0"/>
<path stroke-width="5.5" d="M247.0,408.6 H277.0"/>
<path stroke-width="5.5" d="M247.0,275.4 H277.0"/>
<path stroke-width="5.5" d="M247.0,142.1 H277.0"/>
<path stroke-width="5.5" d="M262.0,608.6 H277.0"/>
<path stroke-width="5.5" d="M262.0,475.3 H277.0"/>
<path stroke-width="5.5" d="M262.0,342.0 H277.0"/>
<path stroke-width="5.5" d="M262.0,208.7 H277.0"/>
<path stroke-width="5.5" d="M262.0,75.4 H277.0"/>
<path stroke-width="5.5" d="M247.0,1121.2 H277.0"/>
<path stroke-width="5.5" d="M247.0,958.8 H277.0"/>
<path stroke-width="5.5" d="M247.0,796.4 H277.0"/>
<path stroke-width="5.5" d="M262.0,1202.4 H277.0"/>
<path stroke-width="5.5" d="M262.0,1040.0 H277.0"/>
<path stroke-width="5.5" d="M262.0,877.6 H277.0"/>
<path stroke-width="5.5" d="M262.0,715.2 H277.0"/>
<path stroke-width="5.5" d="M247.0,1759.4 H277.0"/>
<path stroke-width="5.5" d="M247.0,1626.0 H277.0"/>
<path stroke-width="5.5" d="M247.0,1492.5 H277.0"/>
<path stroke-width="5.5" d="M247.0,1359.1 H277.0"/>
<path stroke-width="5.5" d="M262.0,1826.1 H277.0"/>
<path stroke-width="5.5" d="M262.0,1692.7 H277.0"/>
<path stroke-width="5.5" d="M262.0,1559.2 H277.0"/>
<path stroke-width="5.5" d="M262.0,1425.8 H277.0"/>
<path stroke-width="5.5" d="M262.0,1292.4 H277.0"/>
<path stroke-width="5.5" d="M277.0,1892.8 V1907.8"/>
<path stroke-width="5.5" d="M328.1,1892.8 V1922.8"/>
<path stroke-width="5.5" d="M379.3,1892.8 V1907.8"/>
<path stroke-width="5.5" d="M430.4,1892.8 V1922.8"/>
<path stroke-width="5.5" d="M481.6,1892.8 V1907.8"/>
<path stroke-width="5.5" d="M532.7,1892.8 V1922.8"/>
<path stroke-width="5.5" d="M583.8,1892.8 V1907.8"/>
<path stroke-width="5.5" d="M635.0,1892.8 V1922.8"/>
<path stroke-width="5.5" d="M686.1,1892.8 V1907.8"/>
<path stroke-width="5.5" d="M737.3,1892.8 V1922.8"/>
<path stroke-width="5.5" d="M788.4,1892.8 V1907.8"/>
<path stroke-width="5.5" d="M839.5,1892.8 V1922.8"/>
<path stroke-width="5.5" d="M890.7,1892.8 V1907.8"/>
<path stroke-width="5.5" d="M941.8,1892.8 V1922.8"/>
<path stroke-width="5.5" d="M993.0,1892.8 V1907.8"/>
<path stroke-width="5.5" d="M1044.1,1892.8 V1922.8"/>
<path stroke-width="5.5" d="M1095.2,1892.8 V1907.8"/>
<path stroke-width="5.5" d="M1146.4,1892.8 V1922.8"/>
<path stroke-width="5.5" d="M1197.5,1892.8 V1907.8"/>
<path stroke-width="5.5" d="M1248.7,1892.8 V1922.8"/>
<path stroke-width="5.5" d="M1299.8,1892.8 V1907.8"/>
<path stroke-width="5.5" d="M1350.9,1892.8 V1922.8"/>
<path stroke-width="5.5" d="M1402.1,1892.8 V1907.8"/>
<path stroke-width="5.5" d="M1453.2,1892.8 V1922.8"/>
<path stroke-width="5.5" d="M1504.4,1892.8 V1907.8"/>
<path stroke-width="5.5" d="M1555.5,1892.8 V1922.8"/>
<path stroke-width="5.5" d="M1606.6,1892.8 V1907.8"/>
<path stroke-width="5.5" d="M1657.8,1892.8 V1922.8"/>
<path stroke-width="5.5" d="M1708.9,1892.8 V1907.8"/>
<path stroke-width="5.5" d="M1760.1,1892.8 V1922.8"/>
<path stroke-width="5.5" d="M1811.2,1892.8 V1907.8"/>
<path stroke-width="5.5" d="M1862.3,1892.8 V1922.8"/>
<path stroke-width="5.5" d="M1913.5,1892.8 V1907.8"/>
<path stroke-width="5.5" d="M1964.6,1892.8 V1922.8"/>
<path stroke-width="5.5" d="M2015.8,1892.8 V1907.8"/>
<path stroke-width="5.5" d="M2066.9,1892.8 V1922.8"/>
<path stroke-width="5.5" d="M2118.0,1892.8 V1907.8"/>
<path stroke-width="5.5" d="M2169.2,1892.8 V1922.8"/>
<path stroke-width="5.5" d="M2220.3,1892.8 V1907.8"/>
<path stroke-width="5.5" d="M2271.5,1892.8 V1922.8"/>
<path stroke-width="5.5" d="M2322.6,1892.8 V1907.8"/>
<path stroke-width="5.5" d="M2374.1,1892.8 V1922.8"/>
</g>
<g id="ylabels">
<text class="yt" x="227" y="691.8">0</text>
<text class="yt" x="227" y="558.5">70</text>
<text class="yt" x="227" y="425.2">140</text>
<text class="yt" x="227" y="292.0">210</text>
<text class="yt" x="227" y="158.7">280</text>
<text class="yt" x="227" y="1300.2">0</text>
<text class="yt" x="227" y="1137.8">200</text>
<text class="yt" x="227" y="975.4">400</text>
<text class="yt" x="227" y="813.0">600</text>
<text class="yt" x="227" y="1909.4">0.0</text>
<text class="yt" x="227" y="1776.0">0.7</text>
<text class="yt" x="227" y="1642.6">1.4</text>
<text class="yt" x="227" y="1509.1">2.1</text>
<text class="yt" x="227" y="1375.7">2.8</text>
</g>
<g id="xlabels">
<text class="xt" x="391.8" y="1977.5">0</text>
<text class="xt" x="684.7" y="1977.5">50</text>
<text class="xt" x="1036.3" y="1977.5">100</text>
<text class="xt" x="1409.5" y="1977.5">200</text>
<text class="xt" x="1761.2" y="1977.5">500</text>
<text class="xt" x="2113.7" y="1977.5">1000</text>
</g>
<text class="ttl" x="1233" y="2061.5">nZVI concentration (mg/kg)</text>
<text class="ytl" transform="translate(107.5,370.5) rotate(-90)" x="0" y="0">DTPA Zn (mg/kg)</text>
<text class="ytl" transform="translate(108.5,979.5) rotate(-90)" x="0" y="0">DTPA Pb (mg/kg)</text>
<text class="ytl" transform="translate(100.0,1588.5) rotate(-90)" x="0" y="0">DTPA Cd (mg/kg)</text>
</svg>
</body></html>
